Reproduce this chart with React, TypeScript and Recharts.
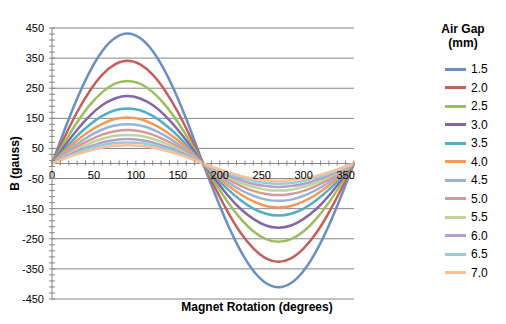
import React from 'react';
import { LineChart, Line, XAxis, YAxis, CartesianGrid, ReferenceLine, Legend } from 'recharts';

const FONT = '"Liberation Sans", Arial, sans-serif';
const GRID = '#868686';

// chart frame
const W = 506;
const H = 324;
const TOP = 28;
const BOTTOM = 25;
const LEFT = 52;
const RIGHT = 82;
const PLOT_H = H - TOP - BOTTOM;
const ZERO_Y = TOP + PLOT_H / 2;

// data (every 15 degrees)
const angles = [0, 15, 30, 45, 60, 75, 90, 105, 120, 135, 150, 165, 180, 195, 210, 225, 240, 255, 270, 285, 300, 315, 330, 345, 360];

const gap15 = [0, 112, 216, 305, 374, 417, 432, 417, 374, 305, 216, 112, 0, -106, -206, -291, -356, -397, -411, -397, -356, -291, -206, -106, 0];
const gap20 = [0, 88, 171, 241, 295, 329, 341, 329, 295, 241, 171, 88, 0, -84, -163, -231, -282, -315, -326, -315, -282, -231, -163, -84, 0];
const gap25 = [0, 71, 137, 194, 237, 265, 274, 265, 237, 194, 137, 71, 0, -67, -130, -184, -225, -251, -260, -251, -225, -184, -130, -67, 0];
const gap30 = [0, 58, 112, 158, 194, 216, 224, 216, 194, 158, 112, 58, 0, -55, -107, -151, -184, -206, -213, -206, -184, -151, -107, -55, 0];
const gap35 = [0, 47, 92, 129, 158, 177, 183, 177, 158, 129, 92, 47, 0, -45, -87, -122, -150, -167, -173, -167, -150, -122, -87, -45, 0];
const gap40 = [0, 40, 77, 108, 132, 148, 153, 148, 132, 108, 77, 40, 0, -38, -73, -103, -126, -141, -146, -141, -126, -103, -73, -38, 0];
const gap45 = [0, 34, 65, 92, 113, 126, 130, 126, 113, 92, 65, 34, 0, -32, -62, -88, -107, -120, -124, -120, -107, -88, -62, -32, 0];
const gap50 = [0, 29, 56, 78, 96, 107, 111, 107, 96, 78, 56, 29, 0, -27, -53, -74, -91, -101, -105, -101, -91, -74, -53, -27, 0];
const gap55 = [0, 25, 48, 67, 82, 92, 95, 92, 82, 67, 48, 25, 0, -23, -45, -64, -78, -87, -90, -87, -78, -64, -45, -23, 0];
const gap60 = [0, 21, 41, 57, 70, 78, 81, 78, 70, 57, 41, 21, 0, -20, -39, -55, -68, -75, -78, -75, -68, -55, -39, -20, 0];
const gap65 = [0, 18, 35, 50, 61, 68, 70, 68, 61, 50, 35, 18, 0, -17, -34, -47, -58, -65, -67, -65, -58, -47, -34, -17, 0];
const gap70 = [0, 16, 31, 43, 53, 59, 61, 59, 53, 43, 31, 16, 0, -15, -29, -41, -50, -56, -58, -56, -50, -41, -29, -15, 0];

const gapLabels = ['1.5', '2.0', '2.5', '3.0', '3.5', '4.0', '4.5', '5.0', '5.5', '6.0', '6.5', '7.0'];
const gapValues = [gap15, gap20, gap25, gap30, gap35, gap40, gap45, gap50, gap55, gap60, gap65, gap70];
const gapColors = [
  '#6A8FC7', '#C65F5C', '#9DBE5E', '#8468A5', '#52AEC6', '#F79A50',
  '#9AB2D8', '#D69A98', '#C0D59E', '#B0A2C8', '#96CCDC', '#F9C19A',
];

const xTicks = Array.from({ length: 37 }, (_, i) => i * 10);
const yTicks = Array.from({ length: 46 }, (_, i) => -450 + i * 20);
const yMajor = [-450, -350, -250, -150, -50, 50, 150, 250, 350, 450];

const rows = angles.map((a, i) => {
  const row: any = { angle: a };
  gapLabels.forEach((g, k) => {
    row[g] = gapValues[k][i];
  });
  return row;
});

const XTick = (props: any) => {
  const { x, payload } = props;
  const v = payload.value;
  return (
    <g>
      <line x1={x} x2={x} y1={ZERO_Y - 3} y2={ZERO_Y + 2} stroke={GRID} />
      {v % 50 === 0 && (
        <text x={x} y={ZERO_Y + 15} textAnchor="middle" fontSize={11} fontFamily={FONT} fill="#000">
          {v}
        </text>
      )}
    </g>
  );
};

const YTick = (props: any) => {
  const { y, payload } = props;
  const v = payload.value;
  const major = (v + 450) % 100 === 0;
  return (
    <g>
      <line x1={LEFT - 3} x2={LEFT + 3} y1={y} y2={y} stroke={GRID} />
      {major && (
        <text x={LEFT - 8} y={y + 4} textAnchor="end" fontSize={11} fontFamily={FONT} fill="#000">
          {v}
        </text>
      )}
    </g>
  );
};

const AirGapLegend = ({ payload }: any) => (
  <div style={{ fontFamily: FONT, width: 70, color: '#000' }}>
    <div style={{ width: 46, textAlign: 'center', fontWeight: 'bold', fontSize: 12, lineHeight: '14px' }}>
      Air Gap
      <br />
      (mm)
    </div>
    <div style={{ marginTop: 10 }}>
      {(payload || []).map((p: any) => (
        <div key={p.value} style={{ display: 'flex', alignItems: 'center', height: 18.5, fontSize: 12 }}>
          <span style={{ display: 'inline-block', width: 21, height: 3, marginLeft: 5, marginRight: 5, background: p.color }} />
          {p.value}
        </div>
      ))}
    </div>
  </div>
);

export default function App() {
  return (
    <div style={{ width: W, height: H, margin: -8, background: '#fff' }}>
      <LineChart width={W} height={H} data={rows} margin={{ top: TOP, right: RIGHT, bottom: 5, left: 8 }}>
        <CartesianGrid vertical={false} horizontalValues={yMajor} stroke={GRID} />
        <XAxis
          dataKey="angle"
          type="number"
          domain={[0, 360]}
          ticks={xTicks}
          interval={0}
          height={20}
          axisLine={false}
          tickLine={false}
          tick={<XTick />}
          label={{
            content: () => (
              <text x={257} y={311} textAnchor="middle" fontSize={12} fontWeight="bold" fontFamily={FONT} fill="#000">
                Magnet Rotation (degrees)
              </text>
            ),
          }}
        />
        <YAxis
          type="number"
          domain={[-450, 450]}
          ticks={yTicks}
          interval={0}
          width={44}
          axisLine={{ stroke: GRID }}
          tickLine={false}
          tick={<YTick />}
          label={{
            content: () => (
              <text
                x={14.5}
                y={ZERO_Y}
                dy={4}
                transform={`rotate(-90, 14.5, ${ZERO_Y})`}
                textAnchor="middle"
                fontSize={12}
                fontWeight="bold"
                fontFamily={FONT}
                fill="#000"
              >
                B (gauss)
              </text>
            ),
          }}
        />
        <ReferenceLine y={0} stroke={GRID} />
        <Legend
          layout="horizontal"
          verticalAlign="middle"
          align="right"
          content={<AirGapLegend />}
          wrapperStyle={{ left: 440, top: 22, width: 70 }}
        />
        {gapLabels.map((g, k) => (
          <Line
            key={g}
            dataKey={g}
            name={g}
            type="natural"
            stroke={gapColors[k]}
            strokeWidth={2.5}
            dot={false}
            isAnimationActive={false}
          />
        ))}
      </LineChart>
    </div>
  );
}
